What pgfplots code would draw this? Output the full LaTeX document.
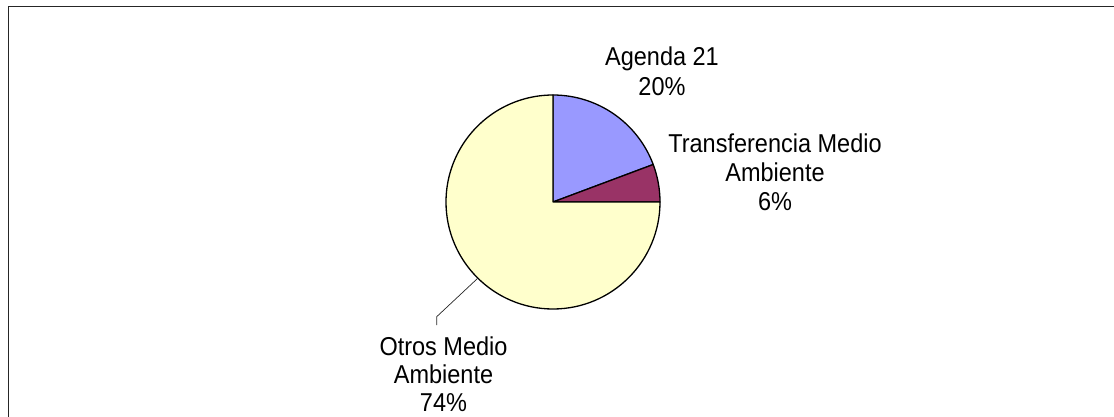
\documentclass[border=0pt]{standalone}
\usepackage{pgfplots}
\usepackage{pgfplotstable}
\pgfplotsset{compat=1.18}
\usepackage{fontspec}
\setmainfont{Liberation Sans}
\definecolor{cAg}{HTML}{9999FF}
\definecolor{cTr}{HTML}{993366}
\definecolor{cOt}{HTML}{FFFFCC}
\pgfplotstableread{
label value
Agenda 19.3
Transferencia 5.7
Otros 75.0
}\pietable
\pgfplotstablegetelem{0}{value}\of\pietable \let\vA\pgfplotsretval
\pgfplotstablegetelem{1}{value}\of\pietable \let\vB\pgfplotsretval
\pgfplotstablegetelem{2}{value}\of\pietable \let\vC\pgfplotsretval
\pgfmathsetmacro{\aA}{90-3.6*\vA}
\pgfmathsetmacro{\aB}{\aA-3.6*\vB}
\pgfmathsetmacro{\aC}{\aB-3.6*\vC}
\newcommand{\lbl}[1]{\scalebox{1}[1.1]{#1}}
\begin{document}
\begin{tikzpicture}
\begin{axis}[x=1pt,y=1pt,xmin=0,xmax=1114,ymin=0,ymax=416,
  disabledatascaling, hide axis, anchor=origin, at={(0pt,0pt)}, clip=false]
\addplot[draw=none,forget plot] coordinates {(553,214)};
\filldraw[fill=cAg,draw=black,line width=1.3pt,line join=round] (axis cs:553,214) -- ++(90:107pt) arc[start angle=90,end angle=\aA,radius=107pt] -- cycle;
\filldraw[fill=cTr,draw=black,line width=1.3pt,line join=round] (axis cs:553,214) -- ++(\aA:107pt) arc[start angle=\aA,end angle=\aB,radius=107pt] -- cycle;
\filldraw[fill=cOt,draw=black,line width=1.3pt,line join=round] (axis cs:553,214) -- ++(\aB:107pt) arc[start angle=\aB,end angle=\aC,radius=107pt] -- cycle;
\draw[black!85,line width=0.7pt] (axis cs:477.7,137.7) -- (axis cs:436.7,99.3) -- (axis cs:436.7,91);
\begin{scope}[every node/.style={anchor=base,inner sep=0pt,font=\fontsize{23.5}{28}\selectfont}]
\node at (axis cs:662,350) {\lbl{Agenda 21}};
\node at (axis cs:662,321) {\lbl{20\%}};
\node at (axis cs:775,264) {\lbl{Transferencia Medio}};
\node at (axis cs:775,235) {\lbl{Ambiente}};
\node at (axis cs:775,206) {\lbl{6\%}};
\node at (axis cs:443.5,61) {\lbl{Otros Medio}};
\node at (axis cs:443.5,33) {\lbl{Ambiente}};
\node at (axis cs:443.5,5) {\lbl{74\%}};
\end{scope}
\draw[black!85,line width=1.4pt] (axis cs:8.3,-20) -- (axis cs:8.3,409.5) -- (axis cs:1130,409.5);
\end{axis}
\pgfresetboundingbox
\useasboundingbox (0pt,0pt) rectangle (1114pt,416pt);
\end{tikzpicture}
\end{document}
